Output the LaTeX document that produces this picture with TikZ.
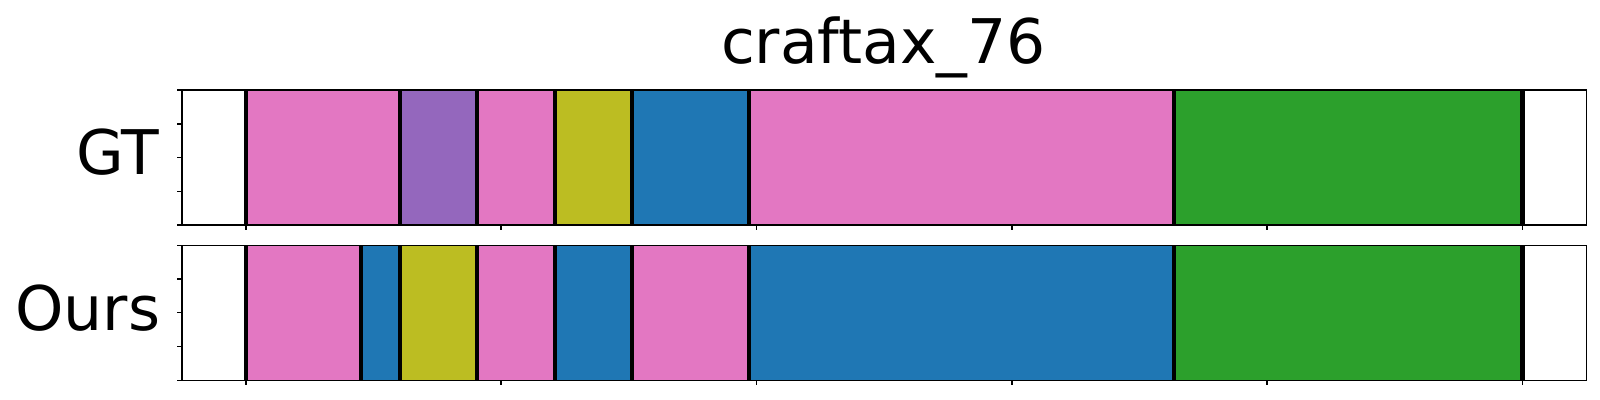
\documentclass[tikz,border=0pt]{standalone}
\usepackage{fontspec}
\setmainfont{DejaVu Sans}
\definecolor{tabpink}{HTML}{E377C2}
\definecolor{tabpurple}{HTML}{9467BD}
\definecolor{tabolive}{HTML}{BCBD22}
\definecolor{tabblue}{HTML}{1F77B4}
\definecolor{tabgreen}{HTML}{2CA02C}
\tikzset{
  frame/.style={draw=black, line width=0.4pt},
  sepline/.style={draw=black, line width=1.25pt},
  tickline/.style={draw=black, line width=0.4pt},
  bigtext/.style={font=\fontsize{17.5}{21}\selectfont, inner sep=0pt}
}
\begin{document}
\begin{tikzpicture}[x=0.01cm, y=0.01cm]
        \useasboundingbox (0,0) rectangle (1600,400);
        \node[bigtext, anchor=base] (title) at (883.4,336.7) {craftax\_76};
        \node[bigtext, anchor=base east] (gtlabel) at (160,225) {GT};
        \node[bigtext, anchor=base east] (ourslabel) at (161,70) {Ours};
        % GT
        \begin{scope}[xshift=2.457cm, yshift=1.747cm, x=0.1276cm, y=1.35cm]
            \foreach \a/\b/\c in {0/12.07/tabpink, 12.07/18.1/tabpurple, 18.1/24.2/tabpink, 24.2/30.25/tabolive, 30.25/39.4/tabblue, 39.4/72.7/tabpink, 72.7/100/tabgreen}
                \fill[\c] (\a,0) rectangle (\b,1);
            \foreach \a in {0,12.07,18.1,24.2,30.25,39.4,72.7,100}
                \draw[sepline] (\a,0) -- (\a,1);
            \draw[frame] (-5,0) rectangle (105,1);
            \foreach \t in {0,20,...,100}
                \draw[tickline] (\t,0) -- ++(0,-0.05cm);
            \foreach \t in {0,0.25,...,1}
                \draw[tickline] (-5,\t) -- ++(-0.05cm,0);
        \end{scope}
        % Ours
        \begin{scope}[xshift=2.457cm, yshift=0.197cm, x=0.1276cm, y=1.35cm]
            \foreach \a/\b/\c in {0/9/tabpink, 9/12.07/tabblue, 12.07/18.1/tabolive, 18.1/24.2/tabpink, 24.2/30.25/tabblue, 30.25/39.4/tabpink, 39.4/72.7/tabblue, 72.7/100/tabgreen}
                \fill[\c] (\a,0) rectangle (\b,1);
            \foreach \a in {0,9,12.07,18.1,24.2,30.25,39.4,72.7,100}
                \draw[sepline] (\a,0) -- (\a,1);
            \draw[frame] (-5,0) rectangle (105,1);
            \foreach \t in {0,20,...,100}
                \draw[tickline] (\t,0) -- ++(0,-0.05cm);
            \foreach \t in {0,0.25,...,1}
                \draw[tickline] (-5,\t) -- ++(-0.05cm,0);
        \end{scope}
    \end{tikzpicture}
\end{document}
